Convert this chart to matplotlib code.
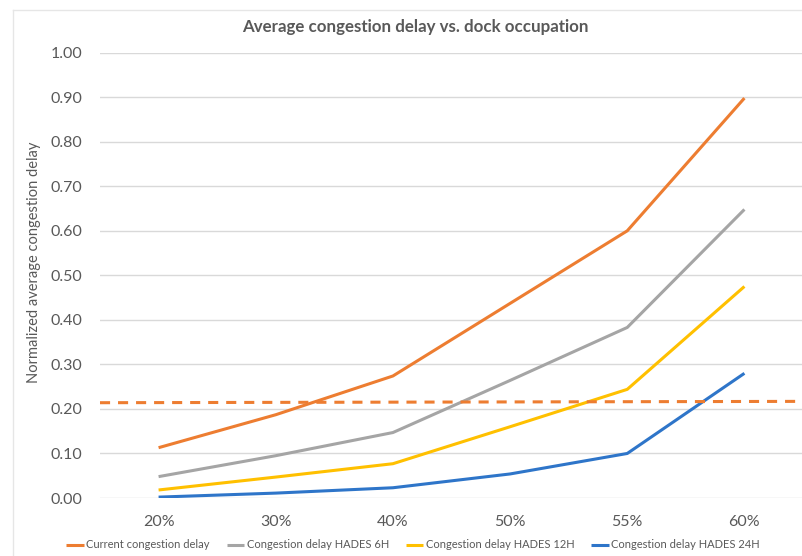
import numpy as np
import matplotlib.pyplot as plt

# Datos
categorias = ["20%", "30%", "40%", "50%", "55%", "60%"]
actual = [0.113, 0.187, 0.274, 0.437, 0.600, 0.898]
hades_6h = [0.048, 0.095, 0.147, 0.264, 0.383, 0.648]
hades_12h = [0.018, 0.047, 0.077, 0.160, 0.244, 0.475]
hades_24h = [0.002, 0.011, 0.023, 0.054, 0.100, 0.280]
umbral = [0.214, 0.217]  # línea discontinua (izquierda, derecha)

nombres = ["Current congestion delay", "Congestion delay HADES 6H",
           "Congestion delay HADES 12H", "Congestion delay HADES 24H"]
colores = ["#ED7D31", "#A5A5A5", "#FFC000", "#2E75C9"]

plt.rcParams['font.family'] = ['Lato', 'DejaVu Sans']

fig = plt.figure(figsize=(8.03, 5.56), dpi=100)
ax = fig.add_axes([100/803, 58/556, 703/803, 445.3/556])

x = np.arange(len(categorias))
for serie, nombre, color in zip([actual, hades_6h, hades_12h, hades_24h], nombres, colores):
    ax.plot(x, serie, color=color, lw=2.2, label=nombre, solid_capstyle="butt")

# Línea discontinua de referencia
ax.plot([-0.5, 5.5], umbral, color="#ED7D31", lw=2.2, dashes=(3.3, 2.6), clip_on=False)

ax.set_xlim(-0.5, 5.5)
ax.set_ylim(0, 1)
ax.set_xticks(x)
ax.set_xticklabels(categorias)
ax.set_yticks(np.arange(0, 1.01, 0.1))
ax.set_yticklabels([f"{v:.2f}" for v in np.arange(0, 1.01, 0.1)])
ax.tick_params(length=0, labelsize=11.5, labelcolor="#595959")
ax.tick_params(axis="y", pad=13)
ax.tick_params(axis="x", pad=12)
ax.grid(axis="y", color="#D9D9D9", lw=1)
ax.set_axisbelow(True)
for s in ax.spines.values():
    s.set_visible(False)

ax.set_ylabel("Normalized average congestion delay", fontsize=10.5, color="#595959")
ax.yaxis.set_label_coords(-59/703, 0.53)

fig.text(415/803, 1 - 27/556, "Average congestion delay vs. dock occupation",
         ha="center", va="center", fontsize=12.2, fontweight="bold", color="#595959")

fig.legend(loc="center", bbox_to_anchor=(413/803, 1 - 545/556), ncol=4, frameon=False,
           fontsize=8.0, handlelength=1.6, handletextpad=0.2, columnspacing=1.5,
           labelcolor="#595959")

# Marco del área del gráfico
fig.add_artist(plt.Line2D([13/803, 13/803], [0, 1 - 10/556], color="#E6E6E6", lw=1))
fig.add_artist(plt.Line2D([13/803, 1], [1 - 10/556, 1 - 10/556], color="#E6E6E6", lw=1))

fig.savefig("out.png", dpi=100)
